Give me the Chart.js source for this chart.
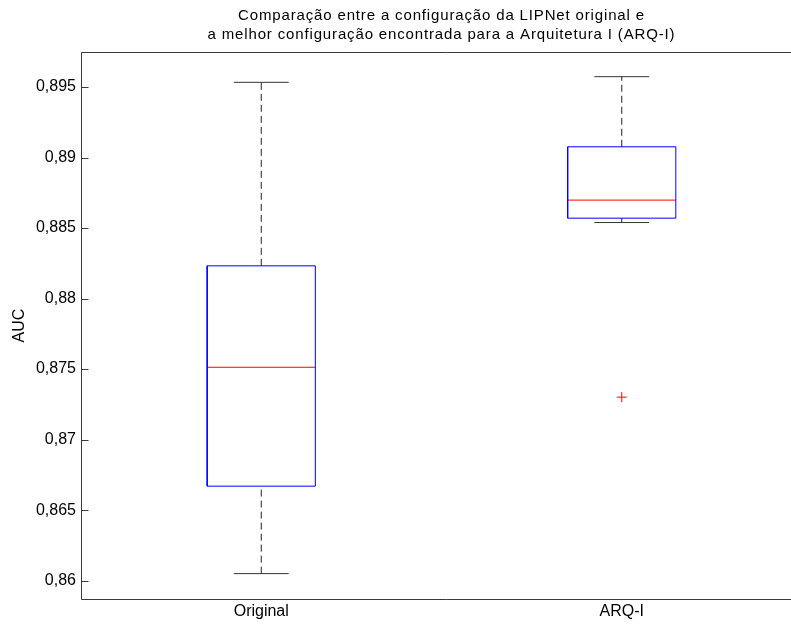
<!DOCTYPE html>
<html>
<head>
<meta charset="utf-8">
<script src="https://cdn.jsdelivr.net/npm/chart.js@4/dist/chart.umd.min.js"></script>
<style>
  html, body { margin: 0; padding: 0; overflow: hidden; background: #fff; }
  canvas { display: block; }
</style>
</head>
<body>
<canvas id="c" width="812" height="624"></canvas>
<script>
// boxplot stats
const categories = ['Original', 'ARQ-I'];
const whiskerHigh = [0.89533, 0.89573];
const q3 = [0.88232, 0.89076];
const medians = [0.87513, 0.88698];
const q1 = [0.8667, 0.8857];
const whiskerLow = [0.8605, 0.88539];
const outliers = [[], [0.87301]];

const yTickValues = [0.86, 0.865, 0.87, 0.875, 0.88, 0.885, 0.89, 0.895];
const yTickLabels = ['0,86', '0,865', '0,87', '0,875', '0,88', '0,885', '0,89', '0,895'];

const titleLines = [
  'Comparação entre a configuração da LIPNet original e',
  'a melhor configuração encontrada para a Arquitetura I (ARQ-I)'
];

const BOX_HALF = 0.15;
const CAP_HALF = 0.076;
const FONT = 'Liberation Sans, Arial, sans-serif';

function seg(points, color, dash) {
  return {
    data: points,
    showLine: true,
    borderColor: color,
    borderWidth: 1,
    borderDash: dash || [],
    pointRadius: 0,
    fill: false
  };
}

const datasets = [];
categories.forEach((name, i) => {
  const x = i + 1;
  // whiskers
  datasets.push(seg([{x: x, y: q3[i]}, {x: x, y: whiskerHigh[i]}], '#222', [7, 4]));
  datasets.push(seg([{x: x, y: whiskerLow[i]}, {x: x, y: q1[i]}], '#222', [7, 4]));
  // caps
  datasets.push(seg([{x: x - CAP_HALF, y: whiskerHigh[i]}, {x: x + CAP_HALF, y: whiskerHigh[i]}], '#333'));
  datasets.push(seg([{x: x - CAP_HALF, y: whiskerLow[i]}, {x: x + CAP_HALF, y: whiskerLow[i]}], '#333'));
  // box
  datasets.push(seg([
    {x: x - BOX_HALF, y: q1[i]}, {x: x + BOX_HALF, y: q1[i]},
    {x: x + BOX_HALF, y: q3[i]}, {x: x - BOX_HALF, y: q3[i]},
    {x: x - BOX_HALF, y: q1[i]}
  ], '#0000ff'));
  // median
  datasets.push(seg([{x: x - BOX_HALF, y: medians[i]}, {x: x + BOX_HALF, y: medians[i]}], '#ff0000'));
  // outliers
  if (outliers[i].length) {
    datasets.push({
      data: outliers[i].map(v => ({x: x, y: v})),
      showLine: false,
      pointStyle: 'cross',
      pointRadius: 5,
      borderColor: '#ff0000',
      borderWidth: 1
    });
  }
});

// frame (right edge is off the page), inward ticks, two-line title centred over the axes
const framePlugin = {
  id: 'frame',
  afterDraw(chart) {
    const {ctx, chartArea: a, scales} = chart;
    const l = Math.round(a.left) + 0.5, t = Math.round(a.top) + 0.5, b = Math.round(a.bottom) + 0.5;
    ctx.save();
    ctx.strokeStyle = '#3a3a3a';
    ctx.lineWidth = 1;
    ctx.beginPath();
    ctx.moveTo(chart.width, t); ctx.lineTo(l, t); ctx.lineTo(l, b); ctx.lineTo(chart.width, b);
    ctx.stroke();
    yTickValues.forEach(v => {
      const py = Math.round(scales.y.getPixelForValue(v)) + 0.5;
      ctx.beginPath();
      ctx.moveTo(l, py); ctx.lineTo(l + 7, py);
      ctx.stroke();
    });
    ctx.fillStyle = '#000';
    ctx.font = '15px ' + FONT;
    ctx.letterSpacing = '0.85px';
    ctx.textAlign = 'center';
    ctx.textBaseline = 'alphabetic';
    const cx = (a.left + a.right) / 2;
    ctx.fillText(titleLines[0], cx, 20);
    ctx.fillText(titleLines[1], cx, 39);
    ctx.restore();
  }
};

new Chart(document.getElementById('c'), {
  type: 'scatter',
  data: { datasets: datasets },
  options: {
    responsive: false,
    animation: false,
    layout: { padding: { top: 52, right: 10, left: 0, bottom: 0 } },
    plugins: {
      legend: { display: false },
      tooltip: { enabled: false },
      title: { display: false }
    },
    scales: {
      x: {
        type: 'linear',
        min: 0.5,
        max: 2.5,
        afterBuildTicks: s => { s.ticks = categories.map((c, i) => ({value: i + 1})); },
        afterFit: s => { s.height = 25; },
        ticks: {
          callback: (v) => categories[v - 1] || '',
          color: '#000',
          font: { family: FONT, size: 16 },
          padding: 3,
          maxRotation: 0
        },
        grid: { display: false, drawTicks: false },
        border: { display: false }
      },
      y: {
        min: 0.8587,
        max: 0.89748,
        afterBuildTicks: s => { s.ticks = yTickValues.map(v => ({value: v})); },
        afterFit: s => { s.width = 81; },
        ticks: {
          callback: (v, idx) => yTickLabels[idx],
          color: '#000',
          font: { family: FONT, size: 16 },
          padding: 5
        },
        title: {
          display: true,
          text: 'AUC',
          color: '#000',
          font: { family: FONT, size: 16 },
          padding: { top: 10, bottom: 0 }
        },
        grid: { display: false, drawTicks: false },
        border: { display: false }
      }
    }
  },
  plugins: [framePlugin]
});
</script>
</body>
</html>
